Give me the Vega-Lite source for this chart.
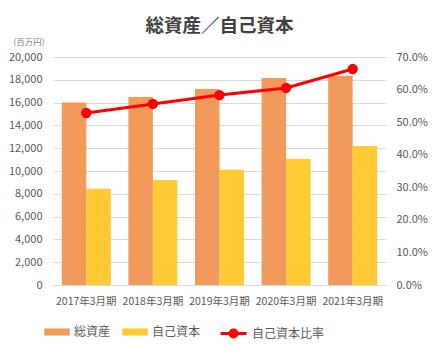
{
  "$schema": "https://vega.github.io/schema/vega-lite/v6.json",
  "width": 333,
  "height": 228,
  "autosize": {"type": "none"},
  "padding": {"left": 53, "top": 57, "right": 50, "bottom": 66},
  "background": "white",
  "config": {
    "font": "Noto Sans CJK JP",
    "view": {"stroke": null},
    "axis": {"labelColor": "#595959", "labelFont": "Noto Sans CJK JP", "domain": false, "ticks": false}
  },
  "title": {
    "text": "総資産／自己資本",
    "fontSize": 18.5,
    "fontWeight": "bold",
    "color": "#404040",
    "anchor": "middle",
    "offset": 2
  },
  "datasets": {
    "bars": [
      {"period": "2017年3月期", "series": "総資産", "value": 16000},
      {"period": "2017年3月期", "series": "自己資本", "value": 8450},
      {"period": "2018年3月期", "series": "総資産", "value": 16500},
      {"period": "2018年3月期", "series": "自己資本", "value": 9220},
      {"period": "2019年3月期", "series": "総資産", "value": 17200},
      {"period": "2019年3月期", "series": "自己資本", "value": 10100},
      {"period": "2020年3月期", "series": "総資産", "value": 18150},
      {"period": "2020年3月期", "series": "自己資本", "value": 11050},
      {"period": "2021年3月期", "series": "総資産", "value": 18350},
      {"period": "2021年3月期", "series": "自己資本", "value": 12200}
    ],
    "ratio": [
      {"period": "2017年3月期", "ratio": 0.528},
      {"period": "2018年3月期", "ratio": 0.556},
      {"period": "2019年3月期", "ratio": 0.583},
      {"period": "2020年3月期", "ratio": 0.605},
      {"period": "2021年3月期", "ratio": 0.663}
    ]
  },
  "layer": [
    {
      "data": {"name": "bars"},
      "mark": {"type": "bar"},
      "encoding": {
        "x": {
          "field": "period", "type": "nominal", "sort": null,
          "scale": {"paddingInner": 0.264, "paddingOuter": 0.132},
          "axis": {"title": null, "labelAngle": 0, "labelFontSize": 10.5, "labelPadding": 11, "grid": false}
        },
        "xOffset": {"field": "series", "type": "nominal", "sort": ["総資産", "自己資本"], "scale": {"domain": ["総資産", "自己資本"], "paddingInner": 0, "paddingOuter": 0}},
        "y": {
          "field": "value", "type": "quantitative",
          "scale": {"domain": [0, 20000], "nice": false},
          "axis": {
            "orient": "left",
            "values": [0, 2000, 4000, 6000, 8000, 10000, 12000, 14000, 16000, 18000, 20000],
            "format": ",.0f",
            "labelFontSize": 11,
            "labelPadding": 11,
            "gridColor": "#d9d9d9",
            "title": "(百万円)",
            "titleAngle": 0,
            "titleAlign": "left",
            "titleBaseline": "middle",
            "titleX": -40,
            "titleY": -16,
            "titleFontSize": 8.5,
            "titleFontWeight": "normal",
            "titleColor": "#7f7f7f"
          }
        },
        "color": {
          "field": "series", "type": "nominal",
          "scale": {"domain": ["総資産", "自己資本"], "range": ["#F29A5B", "#FFCA33"]},
          "legend": {
            "title": null,
            "orient": "none",
            "direction": "horizontal",
            "legendX": -9,
            "legendY": 262,
            "symbolType": "M-1,-0.28H1V0.28H-1Z",
            "symbolSize": 650,
            "symbolStrokeWidth": 0,
            "labelFontSize": 12,
            "labelColor": "#595959",
            "labelOffset": 4,
            "columnPadding": 11
          }
        }
      }
    },
    {
      "data": {"name": "ratio"},
      "mark": {"type": "line", "strokeWidth": 3, "point": {"filled": true, "size": 70, "color": "#FF0000"}},
      "encoding": {
        "x": {"field": "period", "type": "nominal", "sort": null},
        "y": {
          "field": "ratio", "type": "quantitative",
          "scale": {"domain": [0, 0.7], "nice": false},
          "axis": {
            "orient": "right",
            "values": [0, 0.1, 0.2, 0.3, 0.4, 0.5, 0.6, 0.7],
            "format": ".1%",
            "labelFontSize": 11,
            "labelPadding": 10,
            "grid": false,
            "title": null
          }
        },
        "stroke": {
          "datum": "自己資本比率",
          "scale": {"range": ["#FF0000"]},
          "legend": {
            "title": null,
            "orient": "none",
            "legendX": 166,
            "legendY": 262,
            "symbolType": "M-1,0H1M-0.27,0A0.27,0.27,0,1,0,0.27,0A0.27,0.27,0,1,0,-0.27,0Z",
            "symbolSize": 676,
            "symbolStrokeWidth": 3,
            "symbolFillColor": "#FF0000",
            "labelFontSize": 12,
            "labelColor": "#595959",
            "labelOffset": 4
          }
        }
      }
    }
  ],
  "resolve": {"scale": {"y": "independent"}}
}
